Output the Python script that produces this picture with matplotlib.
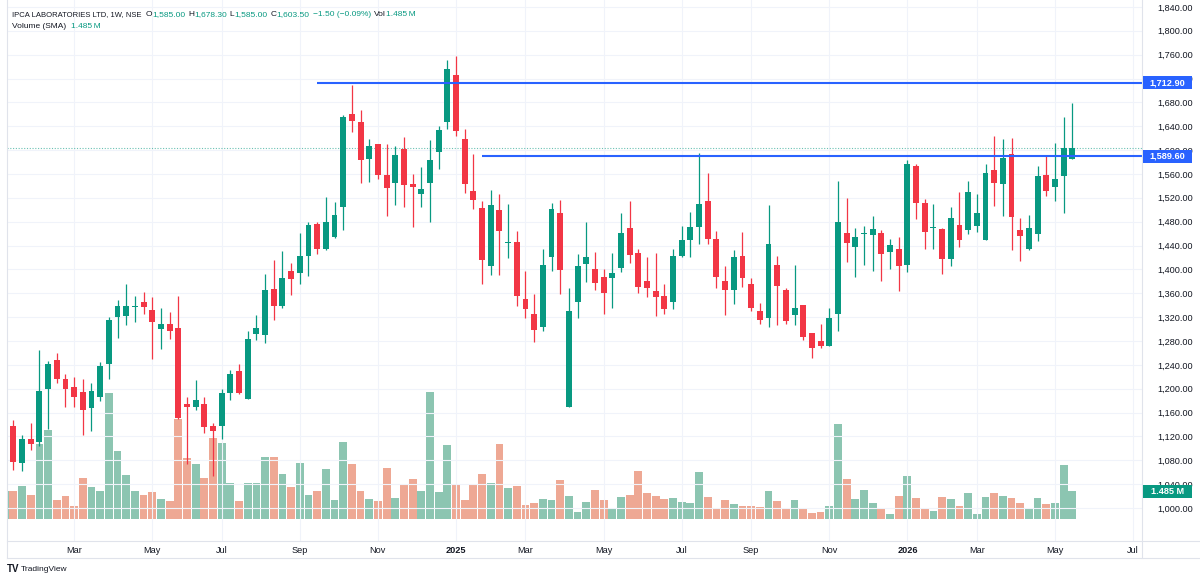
import numpy as np
import pandas as pd
import matplotlib
matplotlib.use("Agg")
import matplotlib.pyplot as plt
from matplotlib.patches import Rectangle
from matplotlib.lines import Line2D

# weekly candles, IPCA LABORATORIES LTD (NSE), from week of 2024-01-08
opens = [1120, 1138, 1075, 1116, 1110, 1199, 1248, 1217, 1203, 1195, 1167, 1186, 1241, 1320, 1322, 1337,
         1346, 1332, 1300, 1309, 1302, 1175, 1169, 1175, 1137, 1137, 1193, 1230, 1183, 1291, 1290, 1367,
         1338, 1397, 1394, 1423, 1476, 1434, 1455, 1505, 1660, 1647, 1585, 1610, 1559, 1545, 1601, 1543,
         1527, 1545, 1597, 1647, 1726, 1619, 1531, 1503, 1405, 1500, 1444, 1446, 1350, 1326, 1303, 1420,
         1494, 1169, 1346, 1409, 1401, 1388, 1386, 1402, 1470, 1428, 1381, 1364, 1356, 1345, 1423, 1450,
         1471, 1515, 1451, 1381, 1365, 1422, 1376, 1331, 1319, 1407, 1366, 1324, 1340, 1293, 1280, 1271,
         1325, 1461, 1437, 1459, 1457, 1461, 1429, 1434, 1408, 1574, 1511, 1469, 1468, 1417, 1475, 1466,
         1473, 1450, 1566, 1543, 1594, 1466, 1435, 1460, 1558, 1538, 1557, 1585]
highs = [1140, 1148, 1122, 1142, 1265, 1247, 1260, 1225, 1219, 1217, 1209, 1245, 1320, 1348, 1375, 1356,
         1362, 1353, 1335, 1328, 1355, 1186, 1214, 1186, 1142, 1199, 1232, 1241, 1297, 1323, 1393, 1415,
         1431, 1410, 1461, 1480, 1480, 1521, 1513, 1659, 1709, 1667, 1619, 1611, 1611, 1607, 1622, 1560,
         1572, 1617, 1640, 1751, 1757, 1635, 1594, 1514, 1533, 1526, 1509, 1464, 1398, 1359, 1435, 1511,
         1516, 1368, 1426, 1480, 1430, 1400, 1427, 1495, 1515, 1435, 1421, 1427, 1376, 1435, 1473, 1497,
         1595, 1562, 1464, 1405, 1433, 1463, 1385, 1344, 1508, 1423, 1368, 1407, 1340, 1293, 1309, 1336,
         1549, 1520, 1469, 1473, 1489, 1466, 1451, 1455, 1584, 1577, 1518, 1509, 1470, 1505, 1530, 1548,
         1526, 1577, 1624, 1619, 1621, 1486, 1491, 1574, 1590, 1612, 1655, 1678.3]
lows = [1115, 1063, 1062, 1098, 1104, 1132, 1209, 1169, 1169, 1122, 1129, 1180, 1217, 1285, 1306, 1311,
        1325, 1249, 1267, 1284, 1150, 1073, 1164, 1126, 1054, 1115, 1181, 1191, 1183, 1281, 1277, 1315,
        1336, 1357, 1375, 1389, 1426, 1432, 1453, 1466, 1631, 1544, 1546, 1551, 1490, 1508, 1505, 1471,
        1505, 1480, 1569, 1636, 1623, 1528, 1502, 1376, 1391, 1390, 1419, 1338, 1319, 1279, 1297, 1398,
        1359, 1169, 1318, 1379, 1366, 1326, 1336, 1395, 1410, 1361, 1354, 1322, 1326, 1333, 1420, 1420,
        1443, 1442, 1369, 1324, 1342, 1370, 1331, 1308, 1303, 1307, 1309, 1306, 1281, 1252, 1269, 1271,
        1296, 1412, 1388, 1408, 1397, 1380, 1400, 1363, 1395, 1484, 1434, 1434, 1393, 1405, 1438, 1459,
        1462, 1450, 1507, 1489, 1433, 1414, 1432, 1448, 1523, 1515, 1495, 1585]
closes = [1134, 1077, 1116, 1108, 1196, 1241, 1217, 1199, 1186, 1165, 1196, 1238, 1315, 1339, 1338, 1339,
          1337, 1312, 1309, 1297, 1151, 1169, 1181, 1136, 1129, 1193, 1224, 1193, 1284, 1301, 1366, 1338,
          1386, 1384, 1423, 1475, 1434, 1479, 1492, 1655, 1649, 1583, 1607, 1559, 1536, 1592, 1542, 1538,
          1535, 1583, 1633, 1736, 1632, 1543, 1516, 1416, 1508, 1465, 1446, 1356, 1333, 1299, 1407, 1502,
          1399, 1331, 1405, 1420, 1378, 1361, 1394, 1461, 1424, 1371, 1369, 1354, 1333, 1423, 1450, 1471,
          1510, 1451, 1387, 1366, 1420, 1385, 1336, 1316, 1442, 1372, 1313, 1336, 1286, 1269, 1271, 1319,
          1480, 1445, 1454, 1460, 1467, 1425, 1441, 1405, 1576, 1511, 1462, 1471, 1417, 1486, 1450, 1529,
          1495, 1562, 1545, 1586, 1488, 1456, 1469, 1557, 1531, 1552, 1604, 1603.5]
volumes = [1.48, 1.51, 1.75, 1.30, 3.97, 4.74, 1.02, 1.23, 0.72, 2.19, 1.71, 1.50, 6.70, 3.60, 2.34, 1.48,
           1.29, 1.46, 1.09, 0.97, 5.31, 3.24, 2.93, 2.20, 4.32, 4.04, 1.92, 0.97, 1.92, 1.92, 3.30, 3.30,
           2.41, 1.71, 3.00, 1.30, 1.50, 2.65, 1.01, 4.11, 2.91, 1.50, 1.06, 0.97, 2.70, 1.14, 1.88, 2.15,
           1.50, 6.74, 1.44, 3.93, 1.88, 1.01, 1.80, 2.38, 1.90, 3.97, 1.67, 1.76, 0.76, 0.85, 1.09, 1.01,
           2.06, 1.23, 0.40, 0.93, 1.57, 1.04, 0.60, 1.18, 1.30, 2.56, 1.39, 1.23, 1.07, 1.14, 0.92, 0.88,
           2.50, 1.18, 0.55, 1.04, 0.79, 0.72, 0.70, 0.63, 1.48, 0.98, 0.60, 1.01, 0.55, 0.33, 0.39, 0.72,
           5.03, 2.12, 1.06, 1.53, 0.86, 0.58, 0.28, 1.23, 2.28, 1.11, 0.58, 0.46, 1.18, 1.07, 0.70, 1.38,
           0.28, 1.18, 1.38, 1.23, 1.14, 0.85, 0.58, 1.14, 0.81, 0.86, 2.89, 1.485]

level_values = [1712.90, 1589.60]
level_starts = ["2024-09-16", "2025-01-27"]
last_price = 1603.50
last_volume = 1.485

W, H = 1200, 581
UP, DOWN = "#089981", "#f23645"
VOL_UP, VOL_DOWN = "#8cc5b1", "#eea894"
TXT = "#131722"
GRID = "#f0f3fa"
BORDER = "#e0e3eb"
BLUE = "#2962ff"
plt.rcParams["font.family"] = ["Liberation Sans", "DejaVu Sans"]

dates = pd.date_range("2024-01-08", periods=len(opens), freq="W-MON")
axis_dates = pd.date_range("2024-01-08", periods=135, freq="W-MON")

o = np.array(opens, float)
h = np.array(highs, float)
l = np.array(lows, float)
c = np.array(closes, float)
v = np.array(volumes, float)
x = np.arange(len(o))
up = c >= o
cols = np.where(up, UP, DOWN)
vcols = np.where(up, VOL_UP, VOL_DOWN)

fig = plt.figure(figsize=(W / 100, H / 100), dpi=100)
fig.patch.set_facecolor("white")

PL, PR, PT, PB = 7, 1142, 0, 541
rect = [PL / W, 1 - PB / H, (PR - PL) / W, (PB - PT) / H]
ax_vol = fig.add_axes(rect, zorder=0)
ax = fig.add_axes(rect, zorder=1)
ax.patch.set_visible(False)

xlim = (0.265, 131.03)

# volume pane
ax_vol.bar(x, v, width=0.9, color=vcols, linewidth=0)
ax_vol.set_xlim(*xlim)
ax_vol.set_ylim(-1.148, 27.48)
ax_vol.set_xticks([])
ax_vol.set_yticks([])
for s in ax_vol.spines.values():
    s.set_visible(False)

# candles
ax.vlines(x, l, h, colors=cols, linewidth=0.9, zorder=2)
ax.bar(x, np.maximum(np.abs(c - o), 1.5), bottom=np.minimum(o, c), width=0.68,
       color=cols, linewidth=0, zorder=3)

ax.set_xlim(*xlim)
ax.set_ylim(944.7, 1851.6)

# horizontal levels
for val, start in zip(level_values, level_starts):
    i0 = dates.get_loc(pd.Timestamp(start))
    ax.hlines(val, i0, xlim[1], color=BLUE, linewidth=1.5, zorder=4)
ax.axhline(last_price, color=UP, linewidth=0.8, linestyle=(0, (1, 1.5)), alpha=0.6, zorder=1)

# axes / grid
yticks = np.arange(1000, 1841, 40)
ax.set_yticks(yticks)
ax.set_yticklabels([f"{t:,.2f}" for t in yticks])
ax.yaxis.tick_right()
ax.tick_params(axis="y", length=0, pad=11, labelsize=6.6, colors=TXT)

tick_idx, tick_lab = [], []
for i in range(1, len(axis_dates)):
    d = axis_dates[i]
    if d.month != axis_dates[i - 1].month and d.month % 2 == 1:
        tick_idx.append(i)
        tick_lab.append(str(d.year) if d.month == 1 else d.strftime("%b"))
ax.set_xticks(tick_idx)
ax.set_xticklabels(tick_lab)
for lab in ax.get_xticklabels():
    if lab.get_text().isdigit():
        lab.set_fontweight("bold")
ax.tick_params(axis="x", length=0, pad=3.5, labelsize=6.6, colors=TXT)

ax.grid(True, color=GRID, linewidth=0.8)
ax.set_axisbelow(True)
for s in ax.spines.values():
    s.set_visible(False)

# frame lines
fig.add_artist(Line2D([PL / W, 1], [1 - PB / H] * 2, color=BORDER, lw=0.8))
fig.add_artist(Line2D([PL / W, 1], [1 - 558 / H] * 2, color=BORDER, lw=0.8))
fig.add_artist(Line2D([PR / W] * 2, [1 - 558 / H, 1], color=BORDER, lw=0.8))
fig.add_artist(Line2D([PL / W] * 2, [1 - 558 / H, 1], color=BORDER, lw=0.8))

fig.canvas.draw()
renderer = fig.canvas.get_renderer()


def price_label(ypx, text, color):
    fig.add_artist(Rectangle((1143 / W, (ypx - 6.5) / H), 49 / W, 13 / H,
                             transform=fig.transFigure, facecolor=color,
                             edgecolor="none", zorder=5))
    fig.text(1167.5 / W, ypx / H, text, color="white", fontsize=6.6, fontweight="bold",
             ha="center", va="center", zorder=6)


for val in level_values:
    price_label(ax.transData.transform((0, val))[1], f"{val:,.2f}", BLUE)
price_label(ax_vol.transData.transform((0, last_volume))[1], f"{last_volume:.3f} M", UP)


def text_row(parts, x0, ytop):
    xp = x0
    for s, col, gap, size in parts:
        t = fig.text(xp / W, 1 - ytop / H, s, color=col, fontsize=size, ha="left",
                     va="center", zorder=6)
        bb = t.get_window_extent(renderer)
        xp = bb.x1 + gap


text_row([("IPCA LABORATORIES LTD, 1W, NSE", TXT, 4, 5.5),
          ("O", TXT, 0, 6.0), (f"{opens[-1]:,.2f}", UP, 3, 6.0),
          ("H", TXT, 0, 6.0), (f"{highs[-1]:,.2f}", UP, 3, 6.0),
          ("L", TXT, 0, 6.0), (f"{lows[-1]:,.2f}", UP, 3, 6.0),
          ("C", TXT, 0, 6.0), (f"{closes[-1]:,.2f}", UP, 3, 6.0),
          ("\u22121.50 (\u22120.09%)", UP, 3, 6.0),
          ("Vol", TXT, 0, 6.0), (f"{last_volume:.3f}\u2009M", UP, 0, 6.0)], 12, 15)
text_row([("Volume (SMA)", TXT, 5, 6.0), (f"{last_volume:.3f}\u2009M", UP, 0, 6.0)], 12, 26)

fig.text(7 / W, 1 - 569.5 / H, "TV", color=TXT, fontsize=7, fontweight="bold", va="center")
fig.text(21 / W, 1 - 569.5 / H, "TradingView", color=TXT, fontsize=6.0, va="center")

fig.savefig("out.png", dpi=100, facecolor="white")
